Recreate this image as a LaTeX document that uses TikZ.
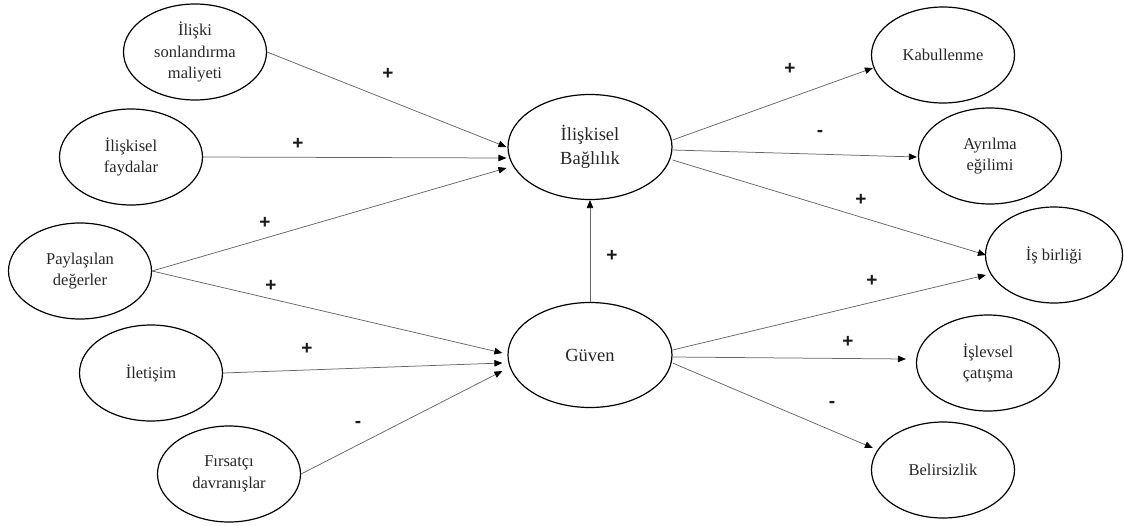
\documentclass[tikz,border=0pt]{standalone}
\usepackage{fontspec}
\setmainfont{Liberation Serif}
\newfontfamily\signfont{Liberation Sans}
\usetikzlibrary{shapes.geometric,arrows.meta}
\begin{document}
\begin{tikzpicture}[x=1pt,y=-1pt,
  outer/.style={ellipse,draw=black,line width=1.2pt,minimum width=143pt,minimum height=96pt,inner sep=0pt,align=center,
    font=\fontsize{16.5}{21.5}\selectfont,text=black!85},
  inner/.style={ellipse,draw=black,line width=1.2pt,minimum width=164pt,minimum height=105pt,inner sep=0pt,align=center,
    font=\fontsize{18.5}{24}\selectfont,text=black!85},
  link/.style={draw=black!60,line width=0.75pt,-{Triangle[length=8pt,width=6.5pt,color=black]}},
  sign/.style={font=\signfont\bfseries\fontsize{19}{19}\selectfont,inner sep=0pt,text=black!90}]
\useasboundingbox (0,0) rectangle (1124,525);
% nodes
\node[outer] (son) at (195,52) {İlişki\\sonlandırma\\maliyeti};
\node[outer] (fay) at (131,157) {İlişkisel\\faydalar};
\node[outer] (pay) at (80,271) {Paylaşılan\\değerler};
\node[outer] (ile) at (151,373) {İletişim};
\node[outer] (fir) at (229,474) {Fırsatçı\\davranışlar};
\node[inner] (bag) at (590,147) {İlişkisel\\Bağlılık};
\node[inner] (guv) at (590,355) {Güven};
\node[outer] (kab) at (943,55) {Kabullenme};
\node[outer] (ayr) at (990,156) {Ayrılma\\eğilimi};
\node[outer,minimum width=137pt] (isb) at (1054,255) {İş birliği};
\node[outer] (isl) at (988,363) {İşlevsel\\çatışma};
\node[outer] (bel) at (943,470) {Belirsizlik};
% connectors into Bağlılık
\draw[link] (son.east) -- ([shift={(-1,0)}]bag.west);
\draw[link] (fay.east) -- ([shift={(-1,11)}]bag.west);
\draw[link] (pay.east) -- ([shift={(-1,21)}]bag.west);
% connectors into Güven
\draw[link] (pay.east) -- ([shift={(-5,-2)}]guv.west);
\draw[link] (ile.east) -- ([shift={(-5,8)}]guv.west);
\draw[link] (fir.east) -- ([shift={(-5,16)}]guv.west);
\draw[link] (guv.north) -- (bag.south);
% connectors out of Bağlılık
\draw[link] ([shift={(0,-7)}]bag.east) -- ([shift={(2,13)}]kab.west);
\draw[link] ([shift={(0,3)}]bag.east) -- ([shift={(-1,1)}]ayr.west);
\draw[link] ([shift={(0,13)}]bag.east) -- ([shift={(1,0)}]isb.west);
% connectors out of Güven
\draw[link] ([shift={(0,-5)}]guv.east) -- ([shift={(1,20)}]isb.west);
\draw[link] ([shift={(0,2)}]guv.east) -- ([shift={(-10,-4)}]isl.west);
\draw[link] ([shift={(0,8)}]guv.east) -- ([shift={(2,-22)}]bel.west);
% signs
\node[sign] (s1) at (388,74) {+};
\node[sign] (s2) at (298,144) {+};
\node[sign] (s3) at (265,223) {+};
\node[sign] (s4) at (271,286) {+};
\node[sign] (s5) at (307,349) {+};
\node[sign] (s6) at (358,424) {-};
\node[sign] (s7) at (612,256) {+};
\node[sign] (s8) at (790,69) {+};
\node[sign] (s9) at (820,133) {-};
\node[sign] (s10) at (861,200) {+};
\node[sign] (s11) at (872,281) {+};
\node[sign] (s12) at (848,342) {+};
\node[sign] (s13) at (832,404) {-};
\end{tikzpicture}
\end{document}
